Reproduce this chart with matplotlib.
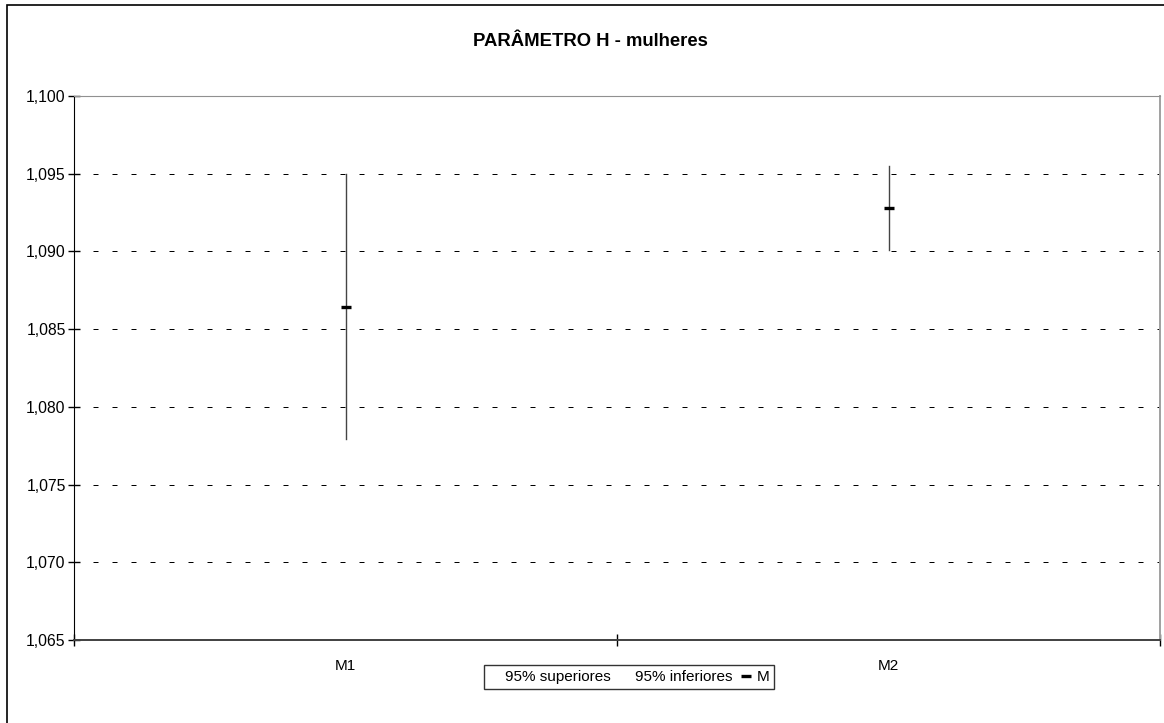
import matplotlib.pyplot as plt
from matplotlib.lines import Line2D
from matplotlib.patches import Rectangle
from matplotlib.ticker import FuncFormatter

plt.rcParams['font.family'] = ['Liberation Sans', 'DejaVu Sans']

categories = ['M1', 'M2']
upper = [1.0950, 1.0955]
lower = [1.0779, 1.0901]
mean = [1.08645, 1.09277]
y_ticks = [1.065, 1.070, 1.075, 1.080, 1.085, 1.090, 1.095, 1.100]

fig = plt.figure(figsize=(11.64, 7.23), dpi=100)
fig.patches.append(Rectangle((7 / 1164, -0.1), 1.2, 1.1 - 5 / 723, transform=fig.transFigure,
                             fill=False, edgecolor='black', linewidth=1.2, zorder=0))

ax = fig.add_axes([74 / 1164, 1 - 640 / 723, (1160 - 74) / 1164, (640 - 96) / 723])

x = list(range(len(categories)))
for i in x:
    ax.plot([i, i], [lower[i], upper[i]], color='#444444', linewidth=1.0, zorder=3)
ax.plot(x, mean, linestyle='none', marker='_', markersize=7.5, markeredgewidth=2.4,
        color='black', zorder=4)

ax.set_xlim(-0.5, len(categories) - 0.5)
ax.set_ylim(1.065, 1.100)
ax.set_yticks(y_ticks)
ax.yaxis.set_major_formatter(FuncFormatter(lambda v, p: f'{v:.3f}'.replace('.', ',')))
for t in y_ticks[1:-1]:
    ax.axhline(t, color='black', linewidth=0.72, dashes=(5, 14), zorder=1)

ax.set_xticks([-0.5, 0.5, 1.5])
ax.set_xticklabels([])
ax.set_xticks(x, minor=True)
ax.set_xticklabels(categories, minor=True)
ax.tick_params(axis='x', which='minor', length=0, pad=14, labelsize=11)
ax.tick_params(axis='x', which='major', direction='inout', length=8, width=1)
ax.tick_params(axis='y', direction='inout', length=8, width=1, labelsize=11.3, pad=2)

ax.spines['left'].set_color('black')
ax.spines['bottom'].set_color('#404040')
ax.spines['bottom'].set_linewidth(1.4)
ax.spines['top'].set_color('#909090')
ax.spines['right'].set_color('#a0a0a0')
ax.spines['right'].set_linewidth(1.4)

fig.text(590 / 1164, 1 - 41 / 723, 'PARÂMETRO H - mulheres', ha='center', va='center',
         fontsize=13.3, fontweight='bold')

handles = [Line2D([], [], linestyle='none'),
           Line2D([], [], linestyle='none'),
           Line2D([], [], linestyle='none', marker='_', markersize=7, markeredgewidth=2.4, color='black')]
leg = fig.legend(handles, ['95% superiores', '95% inferiores', 'M'], loc='center',
                 bbox_to_anchor=(629 / 1164, 1 - 677 / 723), ncol=3, fontsize=11,
                 frameon=True, fancybox=False, handlelength=0.8, handletextpad=0.3,
                 columnspacing=0.5, borderpad=0.3, borderaxespad=0)
leg.get_frame().set_edgecolor('black')
leg.get_frame().set_linewidth(1.0)

fig.savefig('out.png', dpi=100)
